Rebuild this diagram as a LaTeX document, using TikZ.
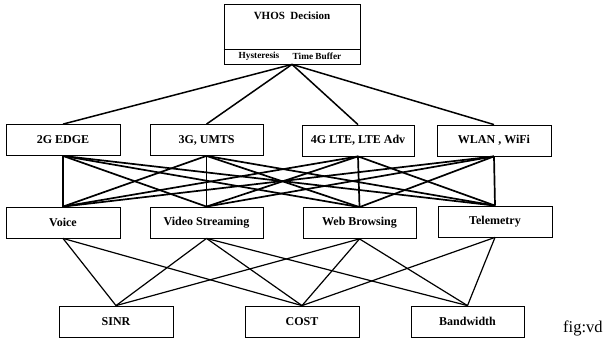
\documentclass[tikz,border=0pt]{standalone}
\usepackage{fontspec}
\setmainfont{Liberation Serif}
\begin{document}
\begin{tikzpicture}[x=1pt,y=-1pt,
  box/.style={draw=black,line width=0.8pt,inner sep=0pt,minimum width=114pt,minimum height=31pt,
    font=\fontsize{12}{14}\selectfont\bfseries},
  appbox/.style={box,text depth=4pt},
  link/.style={line width=1.5pt,black},
  thinlink/.style={line width=1.2pt,black}]
\useasboundingbox (0,0) rectangle (612,351);
% top decision box
\node[draw=black,line width=0.8pt,minimum width=136pt,minimum height=60pt,inner sep=0pt] (top) at (292,34) {};
\draw[line width=0.8pt] (top.west |- 0,49) -- (top.east |- 0,49);
\node[font=\fontsize{11}{13}\selectfont\bfseries] (vhos) at (292,16) {VHOS~~Decision};
\node[font=\fontsize{9.3}{11}\selectfont\bfseries] (hyst) at (259,56.5) {Hysteresis};
\node[font=\fontsize{9.3}{11}\selectfont\bfseries] (tbuf) at (317,56.5) {Time Buffer};
% networks
\node[box] (g2) at (63,140) {2G EDGE};
\node[box,minimum width=113pt] (g3) at (206.5,140) {3G, UMTS};
\node[box,minimum width=112pt] (g4) at (358,140.5) {4G LTE, LTE Adv};
\node[box] (wl) at (494,140.5) {WLAN , WiFi};
% applications
\node[box] (voice) at (63,222.5) {\raisebox{-2pt}{Voice}};
\node[box,minimum width=113pt] (video) at (206.5,222.5) {\raisebox{-1pt}{Video Streaming}};
\node[box,minimum width=113pt] (web) at (359.5,223) {\raisebox{-2pt}{Web Browsing}};
\node[box] (tele) at (495,221.5) {\raisebox{-1pt}{Telemetry}};
% criteria
\node[box] (sinr) at (116,321.5) {SINR};
\node[box] (cost) at (302,321.5) {COST};
\node[box,minimum width=113pt] (bw) at (467.5,321.5) {Bandwidth};
% label
\node[anchor=base west,inner sep=0pt,font=\fontsize{16.5}{19}\selectfont] (lbl) at (563,332) {fig:vd};
% connectors top -> networks
\foreach \n in {g2,g3,g4,wl} \draw[link] (top.south) -- (\n.north);
% networks -> applications
\foreach \n in {g2,g3,g4,wl}
  \foreach \m in {voice,video,web,tele}
    \draw[link,line width=1.7pt] (\n.south) -- (\m.north);
% applications -> criteria
\draw[thinlink] (voice.south) -- (sinr.north);
\draw[thinlink] (voice.south) -- (cost.north);
\draw[thinlink] (video.south) -- (sinr.north);
\draw[thinlink] (video.south) -- (cost.north);
\draw[thinlink] (video.south) -- (bw.north);
\draw[thinlink] (web.south) -- (sinr.north);
\draw[thinlink] (web.south) -- (cost.north);
\draw[thinlink] (web.south) -- (bw.north);
\draw[thinlink] (tele.south) -- (cost.north);
\draw[thinlink] (tele.south) -- (bw.north);
\end{tikzpicture}
\end{document}
